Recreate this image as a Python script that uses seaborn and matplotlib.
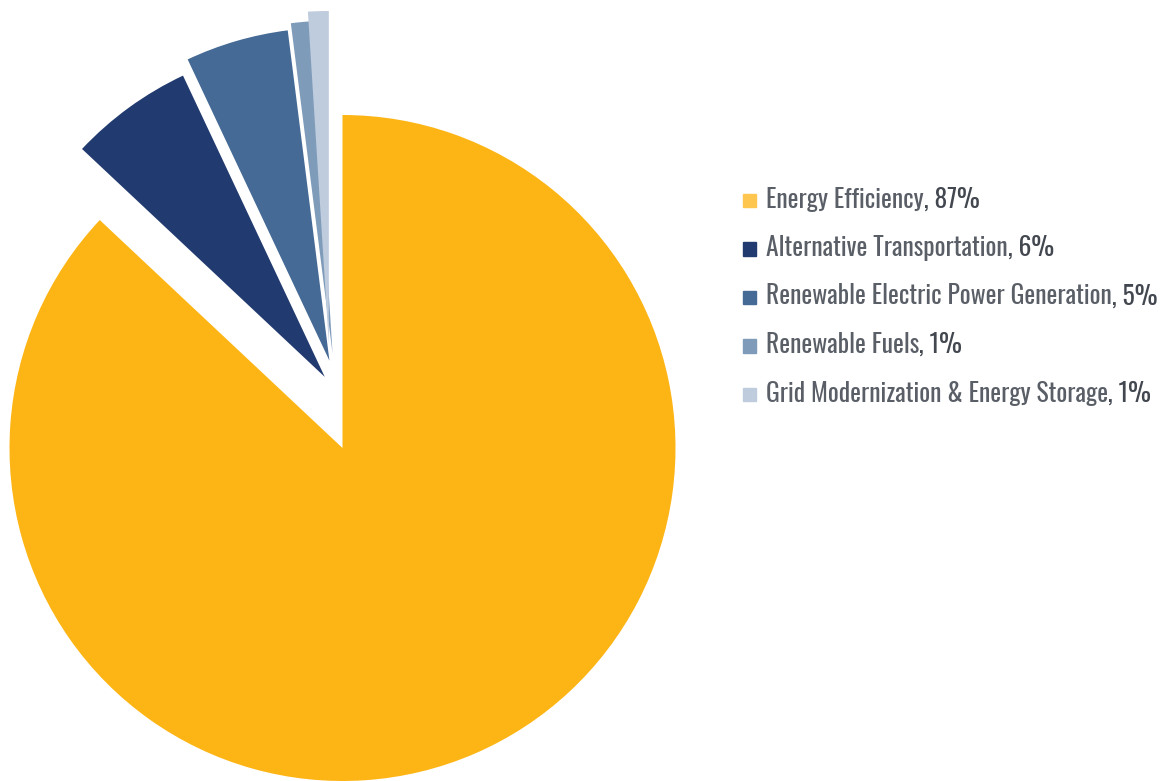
import numpy as np
import matplotlib
matplotlib.use("Agg")
import matplotlib.pyplot as plt
import seaborn as sns

categories = [
    "Energy Efficiency",
    "Alternative Transportation",
    "Renewable Electric Power Generation",
    "Renewable Fuels",
    "Grid Modernization & Energy Storage",
]
shares = [87, 6, 5, 1, 1]
slice_colors = ["#FDB515", "#213A6F", "#456A96", "#7F9BBA", "#BFCCDD"]
key_colors = ["#FFC64F", "#213A6F", "#456A96", "#7F9BBA", "#BFCCDD"]
# pull-out of each wedge: distance (in radii) and direction (degrees)
pull_dist = [0.0, 0.22, 0.265, 0.285, 0.315]
pull_dir = [90.0, 104.0, 98.5, 96.0, 97.5]

sns.set_theme(style="white")
plt.rcParams["font.family"] = ["Oswald", "Roboto Condensed", "DejaVu Sans"]

W, H = 1165, 781
fig = plt.figure(figsize=(W / 100, H / 100), dpi=100)
ax = fig.add_axes([0, 0, 1, 1])

palette = sns.color_palette(slice_colors)
wedges, _ = ax.pie(shares, colors=palette, startangle=90, counterclock=False,
                   radius=1.0, wedgeprops=dict(linewidth=0))
for w, d, a in zip(wedges, pull_dist, pull_dir):
    t = np.deg2rad(a)
    w.set_center((d * np.cos(t), d * np.sin(t)))

scale = 333.0
cx, cy = 342.5, 448.0
ax.set_xlim(-cx / scale, (W - cx) / scale)
ax.set_ylim(-(H - cy) / scale, cy / scale)
ax.set_aspect("equal", adjustable="box")
ax.axis("off")

# Legend: colored squares with two-tone labels
x_key, x_text = 743, 766
row0, row_gap = 200.5, 48.5
longest = 392.0
fig.canvas.draw()
renderer = fig.canvas.get_renderer()

probe = fig.text(0, 0, categories[2] + ", 5%", fontsize=20)
fs = 20 * longest / probe.get_window_extent(renderer).width
probe.remove()

for i, (name, val, col) in enumerate(zip(categories, shares, key_colors)):
    y = row0 + i * row_gap
    fig.patches.append(plt.Rectangle((x_key / W, 1 - (y + 6.5) / H), 13 / W, 13 / H,
                                     transform=fig.transFigure, color=col,
                                     figure=fig))
    base = 1 - (y + 7) / H
    t1 = fig.text(x_text / W, base, name, color="#5A5F67", fontsize=fs,
                  va="baseline", ha="left")
    bb = t1.get_window_extent(renderer)
    fig.text(bb.x1 / W, base, f", {val}%", color="#434850", fontsize=fs,
             va="baseline", ha="left")

fig.savefig("out.png", dpi=100, facecolor="white")
